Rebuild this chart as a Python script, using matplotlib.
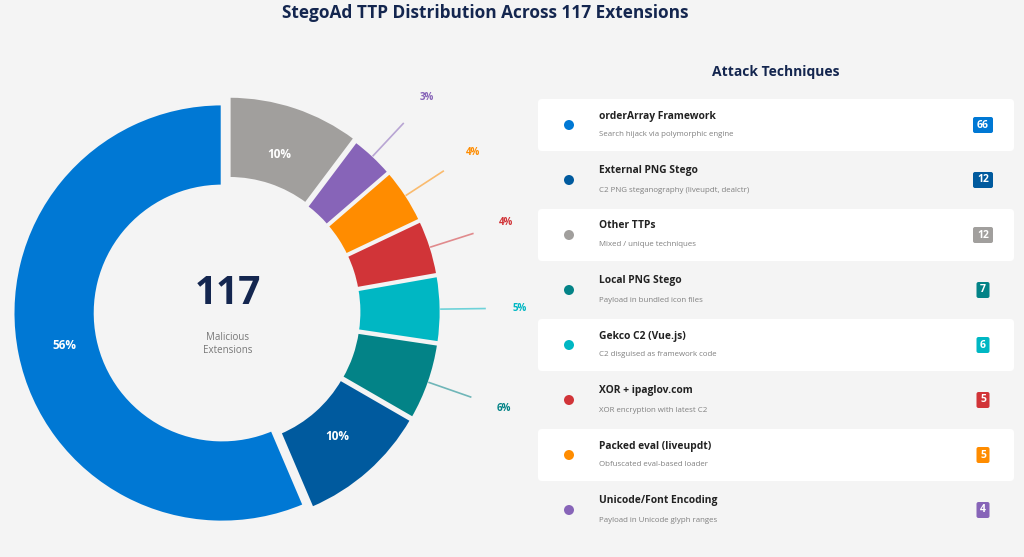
import numpy as np
import matplotlib

matplotlib.use("Agg")
import matplotlib.pyplot as plt
from matplotlib.patches import FancyBboxPatch, Circle

plt.rcParams["font.family"] = ["Open Sans", "DejaVu Sans"]

# legend (card) order
techniques = ["orderArray Framework", "External PNG Stego", "Other TTPs", "Local PNG Stego",
              "Gekco C2 (Vue.js)", "XOR + ipaglov.com", "Packed eval (liveupdt)", "Unicode/Font Encoding"]
descriptions = ["Search hijack via polymorphic engine", "C2 PNG steganography (liveupdt, dealctr)",
                "Mixed / unique techniques", "Payload in bundled icon files",
                "C2 disguised as framework code", "XOR encryption with latest C2",
                "Obfuscated eval-based loader", "Payload in Unicode glyph ranges"]
counts = [66, 12, 12, 7, 6, 5, 5, 4]
colors = ["#0078d4", "#005a9e", "#a19f9d", "#038387", "#00b7c3", "#d13438", "#ff8c00", "#8764b8"]

# donut order (counter-clockwise from the top)
pie_order = [0, 1, 3, 4, 5, 6, 7, 2]
total = sum(counts)

BG = "#f4f4f4"
NAVY = "#14264f"
W, H = 1024, 557

fig = plt.figure(figsize=(W / 100, H / 100), dpi=100)
fig.patch.set_facecolor(BG)
ax = fig.add_axes([0, 0, 1, 1])


def py(y):
    # pixel row (from top) -> axes y
    return H - y


fig.text(0.474, 1 - 13 / H, "StegoAd TTP Distribution Across 117 Extensions",
         ha="center", va="center", fontsize=12.4, fontweight="bold", color=NAVY)

# ---- donut ----
cx, cy, R, ring = 227, py(312), 209, 82
vals = [counts[i] for i in pie_order]
cols = [colors[i] for i in pie_order]
explode = [7 if techniques[i] == "Other TTPs" else 5 for i in pie_order]  # pixels
wedges, _ = ax.pie(vals, colors=cols, startangle=90, counterclock=True, radius=R,
                   center=(cx, cy), explode=explode, frame=True,
                   wedgeprops=dict(width=ring, edgecolor=BG, linewidth=2))
ax.set_xlim(0, W)
ax.set_ylim(0, H)
ax.set_aspect("equal")
ax.axis("off")

for w, v, c in zip(wedges, vals, cols):
    pct = 100 * v / total
    mid = np.deg2rad((w.theta1 + w.theta2) / 2)
    ux, uy = np.cos(mid), np.sin(mid)
    if pct >= 10:
        r = R - ring / 2 - 2
        ax.text(cx + r * ux, cy + r * uy, f"{pct:.0f}%", ha="center", va="center",
                fontsize=8.5, fontweight="bold", color="white")
    else:
        ax.plot([cx + (R + 5) * ux, cx + (R + 49) * ux], [cy + (R + 5) * uy, cy + (R + 49) * uy],
                color=c, alpha=0.55, lw=1.2)
        r = R + 84
        ax.text(cx + r * ux, cy + r * uy, f"{pct:.0f}%", ha="center", va="center",
                fontsize=7, fontweight="bold", color=c)

ax.text(cx + 1, cy + 19, str(total), ha="center", va="center", fontsize=28,
        fontweight="bold", color=NAVY)
ax.text(cx + 1, cy - 32, "Malicious\nExtensions", ha="center", va="center",
        fontsize=7, color="#777777", linespacing=1.3)

# ---- legend cards ----
ax.text(776, py(72), "Attack Techniques", ha="center", va="center", fontsize=10,
        fontweight="bold", color=NAVY)

row0, step = 125, 55
for i, (name, desc, n, c) in enumerate(zip(techniques, descriptions, counts, colors)):
    yc = py(row0 + i * step)
    if i % 2 == 0:
        ax.add_patch(FancyBboxPatch((540, yc - 24), 472, 48, boxstyle="round,pad=2,rounding_size=4",
                                    facecolor="white", edgecolor="none"))
    ax.add_patch(Circle((569, yc), 5, facecolor=c, edgecolor="none"))
    ax.text(599, yc + 9, name, ha="left", va="center", fontsize=7.4, fontweight="bold",
            color="#222222")
    ax.text(599, yc - 10, desc, ha="left", va="center", fontsize=5.7, color="#808080")
    bw = 20 if n >= 10 else 13
    ax.add_patch(FancyBboxPatch((983 - bw / 2 + 1.5, yc - 6.5), bw - 3, 13,
                                boxstyle="round,pad=1.5,rounding_size=2",
                                facecolor=c, edgecolor="none"))
    ax.text(983, yc, str(n), ha="center", va="center", fontsize=7.5, fontweight="bold",
            color="white")

fig.savefig("out.png", dpi=100, facecolor=fig.get_facecolor())
